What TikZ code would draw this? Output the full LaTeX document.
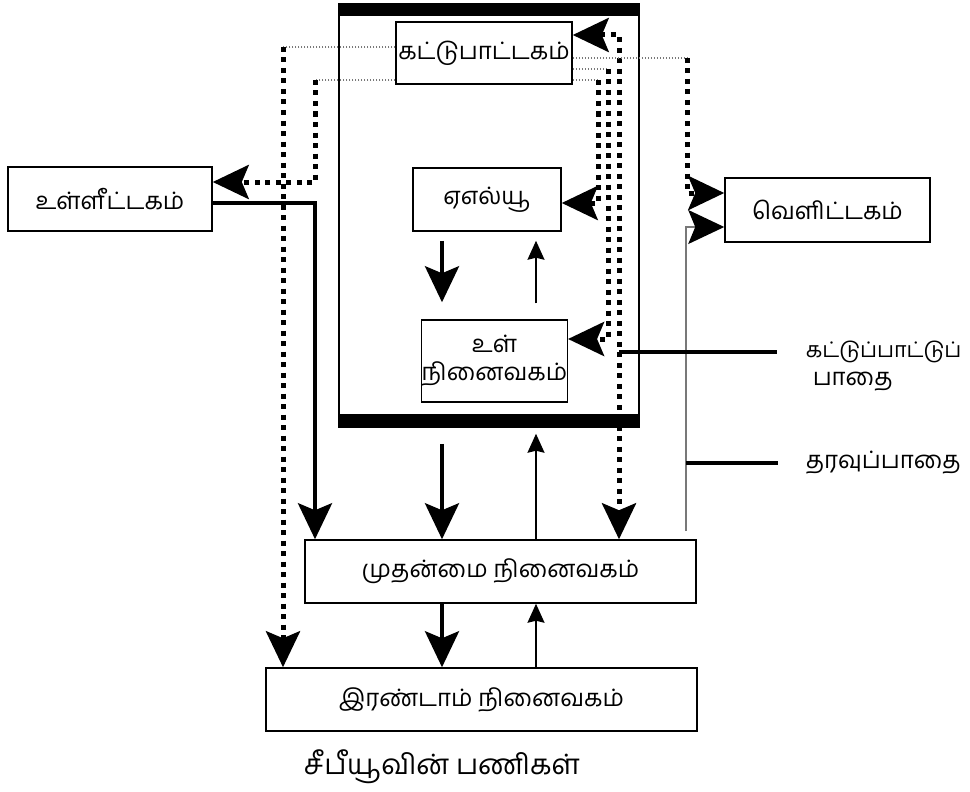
\documentclass[tikz,border=0pt]{standalone}
\usepackage{fontspec}
\newfontfamily\tamil[Script=Tamil]{Hind Madurai}
\usetikzlibrary{arrows.meta}
\definecolor{pathgray}{RGB}{120,120,120}

\begin{document}
\begin{tikzpicture}[x=1pt,y=-1pt,line width=1.5pt,
  >={Stealth[length=36pt,width=34pt,inset=7pt]},
  box/.style={draw,rectangle,inner sep=0pt,font=\tamil\fontsize{24}{28}\selectfont},
  lbl/.style={inner sep=0pt,font=\tamil\fontsize{24}{28}\selectfont},
  ctl/.style={line width=5pt,dash pattern=on 5pt off 5.5pt},
  ctlfine/.style={line width=1.5pt,dash pattern=on 1.5pt off 1.5pt,pathgray},
  thickpath/.style={line width=4pt},
  thinpath/.style={line width=1.5pt,-{Stealth[length=19pt,width=17pt,inset=2pt]}},
  datafine/.style={line width=1.5pt,pathgray,-{Stealth[length=36pt,width=34pt,inset=7pt,color=black]}}]
  \useasboundingbox (0,0) rectangle (970,792);
  % cpu and its units
  \node[box,minimum width=300pt,minimum height=423pt] (cpu) at (489,215.5) {};
  \fill (cpu.north west) rectangle ([yshift=-13pt]cpu.north east);
  \fill ([yshift=14pt]cpu.south west) rectangle (cpu.south east);
  \node[box,minimum width=176pt,minimum height=62pt] (ctrl) at (484,53) {கட்டுபாட்டகம்};
  \node[box,minimum width=148pt,minimum height=63pt] (alu) at (487,199.5) {ஏஎல்யூ};
  \node[box,minimum width=137pt,minimum height=82pt,align=center] (imem) at (494.5,361) {உள்\\நினைவகம்};
  % outside units
  \node[box,minimum width=204pt,minimum height=64pt] (inp) at (110,199) {உள்ளீட்டகம்};
  \node[box,minimum width=205pt,minimum height=64pt] (outp) at (827.5,210) {வெளிட்டகம்};
  \node[box,minimum width=391pt,minimum height=63pt] (mmem) at (500.5,571.5) {முதன்மை நினைவகம்};
  \node[box,minimum width=431pt,minimum height=63pt] (smem) at (481.5,699.5) {இரண்டாம் நினைவகம்};
  \node[lbl,font=\tamil\fontsize{28}{32}\selectfont] (title) at (442,767) {சீபீயூவின் பணிகள்};
  \node[lbl,anchor=west,font=\tamil\fontsize{21.5}{26}\selectfont] (ctllabel) at (805,352) {கட்டுப்பாட்டுப்};
  \node[lbl,anchor=west] (ctllabel2) at (812,382) {பாதை};
  \node[lbl,anchor=west] (datalabel) at (805,463) {தரவுப்பாதை};
  % bends
  \coordinate (c1) at (283,47);
  \coordinate (c2) at (315,80);
  \coordinate (c3) at (315,182);
  \coordinate (c4) at (619,35);
  \coordinate (c5) at (687,58);
  \coordinate (c6) at (608,69);
  \coordinate (c7) at (598,80);
  \coordinate (c8) at (687,193);
  \coordinate (c9) at (608,339);
  \coordinate (c10) at (598,203);
  \coordinate (d1) at (315,203);
  \coordinate (d2) at (686,531);
  \coordinate (d3) at (686,227);
  \coordinate (xl) at (442,0);
  \coordinate (xr) at (536,0);
  % control paths
  \draw[ctlfine] (ctrl.west |- c1) -- (c1);
  \draw[ctl,->] (c1) -- (c1 |- smem.north);
  \draw[ctlfine] (ctrl.west |- c2) -- (c2);
  \draw[ctl,->] (c2) -- (c3) -- (inp.east |- c3);
  \draw[ctl,<->] (ctrl.east |- c4) -- (c4) -- (c4 |- mmem.north);
  \draw[ctlfine] (ctrl.east |- c5) -- (c5);
  \draw[ctl,->] (c5) -- (c8) -- (outp.west |- c8);
  \draw[ctlfine] (ctrl.east |- c6) -- (c6);
  \draw[ctl,->] (c6) -- (c9) -- (imem.east |- c9);
  \draw[ctlfine] (ctrl.east |- c7) -- (c7);
  \draw[ctl,->] (c7) -- (c10) -- (alu.east |- c10);
  % data paths
  \draw[thickpath,->] (inp.east |- d1) -- (d1) -- (d1 |- mmem.north);
  \draw[thickpath,->,shorten <=9pt,shorten >=17pt] (alu.south -| xl) -- (imem.north -| xl);
  \draw[thinpath,shorten <=16pt,shorten >=9pt] (imem.north -| xr) -- (alu.south -| xr);
  \draw[thickpath,->,shorten <=16pt] (cpu.south -| xl) -- (mmem.north -| xl);
  \draw[thinpath,shorten >=6pt] (mmem.north -| xr) -- (cpu.south -| xr);
  \draw[thickpath,->] (mmem.south -| xl) -- (smem.north -| xl);
  \draw[thinpath] (smem.north -| xr) -- (mmem.south -| xr);
  \draw[datafine] (d2) -- (d3) -- (outp.west |- d3);
  % legend
  \draw[thickpath,shorten >=28pt] (c4 |- ctllabel.west) -- (ctllabel.west);
  \draw[thickpath,shorten >=27pt] (d2 |- datalabel.west) -- (datalabel.west);
\end{tikzpicture}
\end{document}
